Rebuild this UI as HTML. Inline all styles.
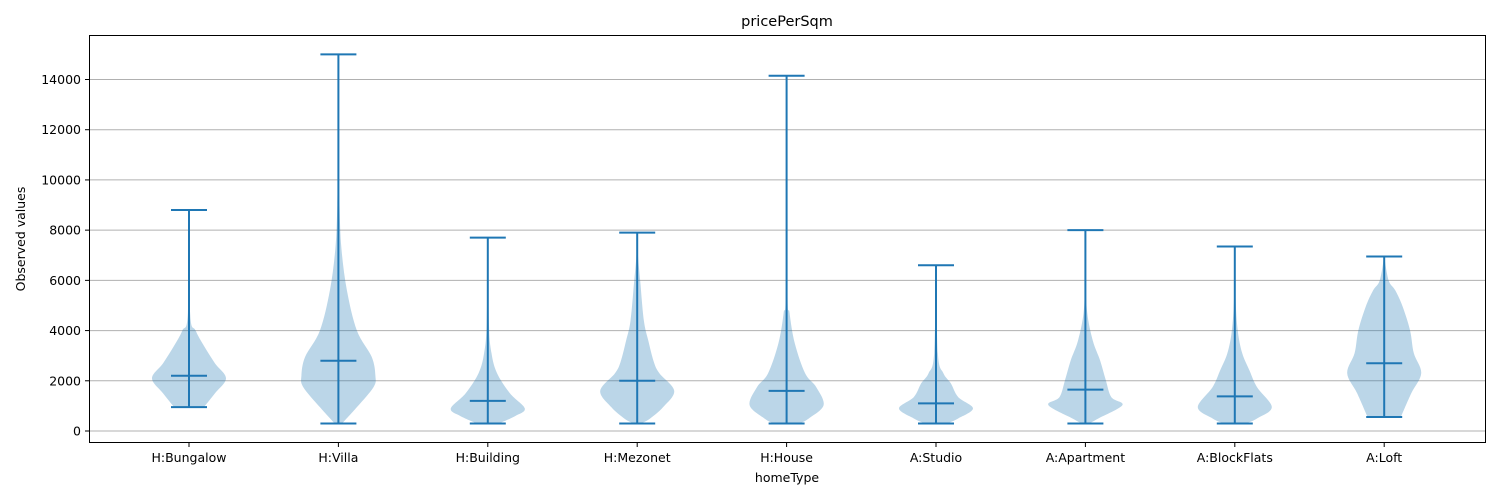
<!DOCTYPE html>
<html><head><meta charset="utf-8">
<style>
body{margin:0;background:#fff;}
svg{display:block;font-family:"DejaVu Sans","Liberation Sans",sans-serif;}
</style></head>
<body>
<svg id="chart" width="1500" height="500" viewBox="0 0 1500 500" xmlns="http://www.w3.org/2000/svg">
<rect width="1500" height="500" fill="#fff"/>
<g id="grid"></g>
<g id="violins"></g>
<rect x="89.5" y="35.5" width="1396" height="407" fill="none" stroke="#000" stroke-width="1"/>
<g id="yticks"></g>
<g id="xticks"></g>
<text x="787" y="26" text-anchor="middle" font-size="14.5">pricePerSqm</text>
<text x="787" y="482" text-anchor="middle" font-size="12.5">homeType</text>
<text transform="translate(25,239) rotate(-90)" text-anchor="middle" font-size="12.5">Observed values</text>
</svg>
<script>
const categories=["H:Bungalow","H:Villa","H:Building","H:Mezonet","H:House","A:Studio","A:Apartment","A:BlockFlats","A:Loft"];
const mins=[950,300,300,300,300,300,300,300,560];
const maxs=[8800,15000,7700,7900,14150,6600,8000,7350,6950];
const means=[2200,2800,1200,2000,1600,1100,1650,1380,2700];
const yTicks=[0,2000,4000,6000,8000,10000,12000,14000];
const densBungalow=[[950,0.4],[1500,0.7],[2100,1],[2700,0.7],[3400,0.4],[4000,0.18],[4700,0.03],[8800,0]];
const densVilla=[[300,0.1],[950,0.5],[1750,0.95],[2200,1],[2950,0.9],[4000,0.5],[5600,0.23],[7300,0.08],[9000,0.03],[11000,0.01],[15000,0]];
const densBuilding=[[300,0.3],[600,0.75],[900,1],[1500,0.6],[2300,0.25],[3100,0.1],[4300,0.03],[7700,0]];
const densMezonet=[[300,0.1],[500,0.35],[950,0.7],[1600,1],[2300,0.6],[2750,0.45],[3600,0.3],[4400,0.18],[6000,0.08],[7000,0.02],[7900,0]];
const densHouse=[[300,0.35],[500,0.6],[1030,1],[1750,0.8],[2300,0.5],[3500,0.22],[4700,0.08],[5800,0.02],[14150,0]];
const densStudio=[[300,0.3],[500,0.6],[900,1],[1350,0.6],[1900,0.4],[2300,0.2],[3100,0.05],[6600,0]];
const densApartment=[[300,0.1],[500,0.35],[1030,1],[1350,0.7],[2030,0.55],[2800,0.4],[3600,0.2],[4700,0.05],[6000,0.01],[8000,0]];
const densBlockFlats=[[300,0.3],[500,0.6],[950,1],[1750,0.6],[2400,0.4],[3100,0.2],[4000,0.08],[5300,0.02],[7350,0]];
const densLoft=[[560,0.45],[1500,0.73],[2300,1],[3100,0.8],[4000,0.7],[4950,0.5],[5600,0.3],[6000,0.12],[6950,0]];
const densities=[densBungalow,densVilla,densBuilding,densMezonet,densHouse,densStudio,densApartment,densBlockFlats,densLoft];

const NS="http://www.w3.org/2000/svg";
const y=v=>431-v*(431-79.5)/14000;
const x=i=>189+i*149.4;
const HALF=37, CAP=18, C="#1f77b4";
function mk(t,a,p){const e=document.createElementNS(NS,t);for(const k in a)e.setAttribute(k,a[k]);p.appendChild(e);return e;}
const grid=document.getElementById('grid'),yt=document.getElementById('yticks'),xt=document.getElementById('xticks'),vg=document.getElementById('violins');
yTicks.forEach(t=>{
  const g=mk('line',{x1:89.5,x2:1485.5,y1:y(t),y2:y(t),stroke:'#b0b0b0','stroke-width':1},grid);
  
  
  const tk=mk('line',{x1:85,x2:89.5,y1:y(t),y2:y(t),stroke:'#000'},yt);
  
  
  const l=mk('text',{x:81,y:y(t)+4.5,'text-anchor':'end','font-size':12.5},yt);
  l.textContent=t;
  
  
});
function smooth(pts){let d='M'+pts[0][0]+','+pts[0][1];
  for(let i=0;i<pts.length-1;i++){const p0=pts[i-1]||pts[i],p1=pts[i],p2=pts[i+1],p3=pts[i+2]||p2;
    d+=' C'+(p1[0]+(p2[0]-p0[0])/6)+','+(p1[1]+(p2[1]-p0[1])/6)+' '+(p2[0]-(p3[0]-p1[0])/6)+','+(p2[1]-(p3[1]-p1[1])/6)+' '+p2[0]+','+p2[1];}
  return d;}
categories.forEach((c,i)=>{
  const cx=x(i),dens=densities[i];
  const right=dens.map(p=>[cx+p[1]*HALF,y(p[0])]);
  const left=dens.slice().reverse().map(p=>[cx-p[1]*HALF,y(p[0])]);
  const d=smooth(right)+' L'+smooth(left).slice(1)+' Z';
  const body=mk('path',{d:d,fill:C,'fill-opacity':0.3,stroke:'none'},vg);
  
  
  const st=mk('line',{x1:cx,x2:cx,y1:y(mins[i]),y2:y(maxs[i]),stroke:C,'stroke-width':2},vg);
  
  
  [mins[i],maxs[i],means[i]].forEach((v,k)=>{
    const cap=mk('line',{x1:cx-CAP,x2:cx+CAP,y1:y(v),y2:y(v),stroke:C,'stroke-width':2},vg);
    
    
  });
  const tk=mk('line',{x1:cx,x2:cx,y1:442.5,y2:447,stroke:'#000'},xt);
  
  
  const l=mk('text',{x:cx,y:462,'text-anchor':'middle','font-size':12.5},xt);
  l.textContent=c;
  
  
});
</script>
</body></html>
